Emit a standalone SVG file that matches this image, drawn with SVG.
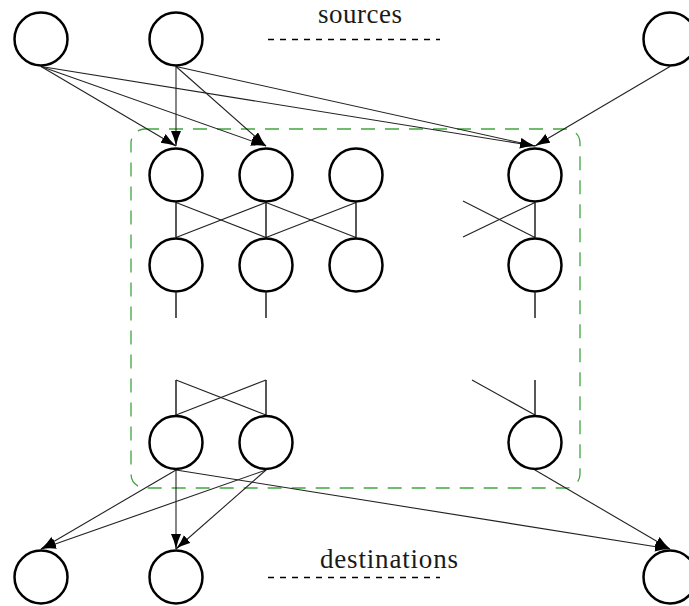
<svg xmlns="http://www.w3.org/2000/svg" width="689" height="606" viewBox="0 0 689 606">
  <style>
    .node { fill: #ffffff; stroke: #000000; stroke-width: 2.5; }
    .edge { fill: none; stroke: #222222; stroke-width: 1.1; }
    .vert { fill: none; stroke: #111111; stroke-width: 1.4; }
    .arrow { fill: none; stroke: #222222; stroke-width: 1.1; marker-end: url(#head); }
    .label { font-family: "Liberation Serif", "DejaVu Serif", serif; font-size: 27px; fill: #1a1a1a; }
    .dots { fill: none; stroke: #000000; stroke-width: 1.3; stroke-dasharray: 6 6; }
    .cluster { fill: none; stroke: #3fa63f; stroke-width: 1.3; stroke-dasharray: 14 10; }
  </style>
  <defs>
    <marker id="head" markerUnits="userSpaceOnUse" markerWidth="16" markerHeight="11" refX="15" refY="5" orient="auto">
      <path d="M0,0 Q7,3.4 15,5 Q7,6.6 0,10 Z" fill="#000000"/>
    </marker>
  </defs>

  <!-- dashed cluster outline -->
  <rect class="cluster" x="131" y="129" width="449" height="359" rx="14" ry="14"/>

  <!-- titles with dotted continuation marks -->
  <g id="sources-label">
    <text class="label" x="318" y="23" textLength="84" lengthAdjust="spacing">sources</text>
    <line class="dots" x1="268" y1="39.5" x2="440" y2="39.5"/>
  </g>
  <g id="destinations-label">
    <text class="label" x="320" y="568" textLength="138" lengthAdjust="spacing">destinations</text>
    <line class="dots" x1="268" y1="577.5" x2="440" y2="577.5"/>
  </g>

  <!-- connectors -->
  <g id="connectors">
    <!-- sources into first layer -->
    <line class="arrow" x1="41" y1="66.5" x2="176" y2="146"/>
    <line class="arrow" x1="41" y1="66.5" x2="266" y2="146"/>
    <line class="arrow" x1="41" y1="66.5" x2="535" y2="146"/>
    <line class="arrow" x1="176" y1="66.5" x2="176" y2="146"/>
    <line class="arrow" x1="176" y1="66.5" x2="266" y2="146"/>
    <line class="arrow" x1="176" y1="66.5" x2="535" y2="146"/>
    <line class="arrow" x1="670" y1="66.5" x2="535" y2="146"/>

    <!-- first layer to second layer -->
    <line class="vert" x1="176" y1="202.5" x2="176" y2="237.5"/>
    <line class="vert" x1="266" y1="202.5" x2="266" y2="237.5"/>
    <line class="vert" x1="356" y1="202.5" x2="356" y2="237.5"/>
    <line class="vert" x1="535" y1="202.5" x2="535" y2="237.5"/>
    <line class="edge" x1="176" y1="202.5" x2="266" y2="237.5"/>
    <line class="edge" x1="266" y1="202.5" x2="176" y2="237.5"/>
    <line class="edge" x1="266" y1="202.5" x2="356" y2="237.5"/>
    <line class="edge" x1="356" y1="202.5" x2="266" y2="237.5"/>
    <line class="edge" x1="463" y1="201" x2="535" y2="237.5"/>
    <line class="edge" x1="463" y1="237" x2="535" y2="202.5"/>

    <!-- stubs leaving the second layer -->
    <line class="vert" x1="176" y1="292.5" x2="176" y2="318"/>
    <line class="vert" x1="266" y1="292.5" x2="266" y2="318"/>
    <line class="vert" x1="535" y1="292.5" x2="535" y2="318"/>

    <!-- stubs entering the last layer -->
    <line class="vert" x1="176" y1="380" x2="176" y2="415"/>
    <line class="vert" x1="266" y1="380" x2="266" y2="415"/>
    <line class="edge" x1="176" y1="380" x2="266" y2="415"/>
    <line class="edge" x1="266" y1="380" x2="176" y2="415"/>
    <line class="vert" x1="535" y1="380" x2="535" y2="415"/>
    <line class="edge" x1="472" y1="380" x2="535" y2="415"/>

    <!-- last layer to destinations -->
    <line class="arrow" x1="176" y1="470" x2="41" y2="549"/>
    <line class="arrow" x1="266" y1="470" x2="41" y2="549"/>
    <line class="arrow" x1="176" y1="470" x2="176" y2="549"/>
    <line class="arrow" x1="266" y1="470" x2="176" y2="549"/>
    <line class="arrow" x1="176" y1="470" x2="670" y2="549"/>
    <line class="arrow" x1="535" y1="470" x2="670" y2="549"/>
  </g>

  <!-- source nodes -->
  <g id="s1"><circle class="node" cx="41" cy="39" r="26.5"/></g>
  <g id="s2"><circle class="node" cx="176" cy="39" r="26.5"/></g>
  <g id="s3"><circle class="node" cx="670" cy="39" r="26.5"/></g>

  <!-- first layer -->
  <g id="a1"><circle class="node" cx="176" cy="175" r="26.5"/></g>
  <g id="a2"><circle class="node" cx="266" cy="175" r="26.5"/></g>
  <g id="a3"><circle class="node" cx="356" cy="175" r="26.5"/></g>
  <g id="a4"><circle class="node" cx="535" cy="175" r="26.5"/></g>

  <!-- second layer -->
  <g id="b1"><circle class="node" cx="176" cy="265" r="26.5"/></g>
  <g id="b2"><circle class="node" cx="266" cy="265" r="26.5"/></g>
  <g id="b3"><circle class="node" cx="356" cy="265" r="26.5"/></g>
  <g id="b4"><circle class="node" cx="535" cy="265" r="26.5"/></g>

  <!-- last layer -->
  <g id="c1"><circle class="node" cx="176" cy="442.5" r="26.5"/></g>
  <g id="c2"><circle class="node" cx="266" cy="442.5" r="26.5"/></g>
  <g id="c4"><circle class="node" cx="535" cy="442.5" r="26.5"/></g>

  <!-- destination nodes -->
  <g id="d1"><circle class="node" cx="41" cy="577" r="26.5"/></g>
  <g id="d2"><circle class="node" cx="176" cy="577" r="26.5"/></g>
  <g id="d3"><circle class="node" cx="670" cy="577" r="26.5"/></g>
</svg>
